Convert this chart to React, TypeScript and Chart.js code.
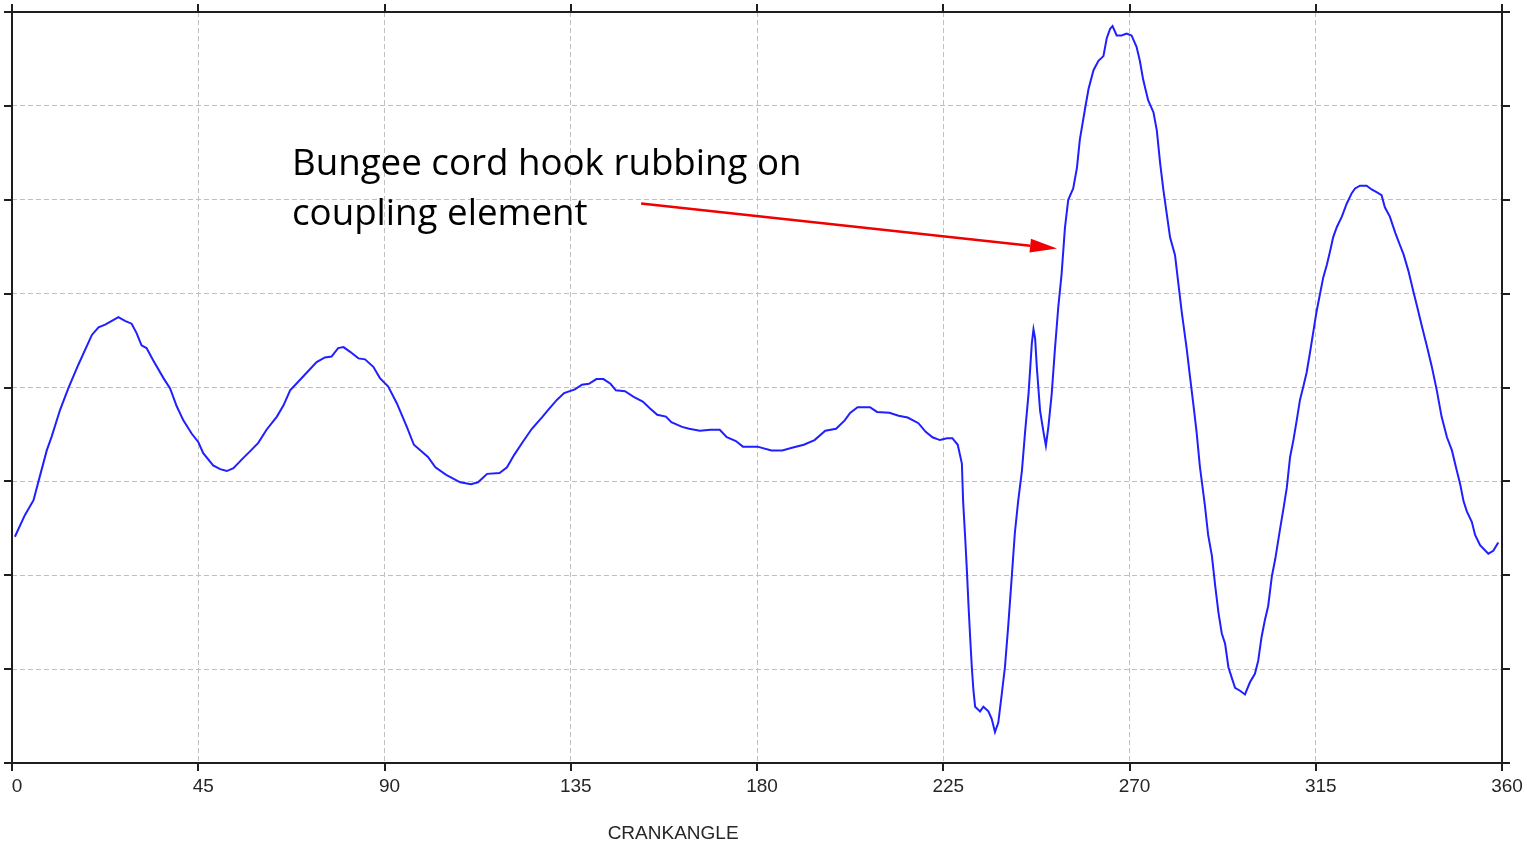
import React, { useEffect, useRef } from "react";
import { Chart, registerables } from "chart.js";

Chart.register(...registerables);

// Crank angle (degrees) and the matching vibration amplitude trace
const crankAngle = [
  0.7, 3.1, 5.2, 6.4, 8.4, 9.6, 11.6, 13.6, 16.0, 19.3, 20.9, 22.5, 23.7, 25.7, 27.3, 28.9,
  30.1, 31.3, 32.5, 34.1, 36.6, 38.2, 39.8, 41.4, 43.4, 45.0, 46.2, 48.6, 50.3, 51.9, 53.5,
  55.9, 57.5, 59.5, 61.5, 64.0, 65.6, 67.2, 70.4, 73.6, 75.6, 77.2, 78.8, 80.1, 81.7, 83.7,
  85.3, 87.3, 88.9, 90.9, 93.0, 95.4, 97.1, 100.5, 102.3, 104.9, 108.3, 110.9, 112.6, 114.8,
  117.8, 119.6, 121.3, 123.4, 125.6, 128.2, 129.5, 131.7, 133.4, 136.0, 137.7, 139.4, 141.2,
  142.9, 144.6, 145.9, 148.1, 150.2, 152.4, 154.1, 155.9, 158.0, 159.3, 161.9, 163.6, 166.2,
  168.8, 171.0, 172.7, 174.9, 176.6, 180.1, 183.5, 186.1, 188.7, 191.3, 193.9, 196.5, 199.1,
  201.2, 202.5, 204.3, 207.3, 209.0, 212.0, 214.2, 216.4, 219.0, 220.7, 222.4, 224.2, 225.9,
  227.2, 228.5, 229.5, 229.8, 230.3, 230.7, 231.1, 231.5, 231.9, 232.3, 232.7, 233.9, 234.7,
  235.9, 236.7, 237.5, 238.3, 239.1, 239.9, 240.7, 241.5, 242.3, 243.1, 244.0, 244.8, 245.6,
  246.4, 246.8, 247.2, 247.6, 248.4, 249.2, 249.8, 250.4, 251.2, 252.0, 252.8, 253.6, 254.4,
  255.2, 256.4, 257.3, 258.0, 259.3, 260.1, 261.3, 262.5, 263.7, 264.5, 265.3, 265.9, 266.9,
  268.1, 269.3, 270.5, 271.7, 272.5, 273.3, 274.5, 275.8, 276.6, 277.4, 278.2, 279.0, 279.8,
  281.0, 281.8, 282.6, 283.8, 284.6, 285.4, 286.2, 287.0, 288.2, 289.0, 289.9, 290.7, 291.5,
  292.3, 293.1, 293.9, 294.7, 295.5, 296.7, 297.9, 299.1, 300.3, 301.1, 301.9, 302.7, 303.5,
  304.4, 305.2, 306.4, 307.2, 308.0, 308.8, 309.6, 310.4, 311.2, 312.0, 312.8, 313.6, 314.4,
  315.2, 316.0, 316.8, 317.7, 318.5, 319.2, 320.1, 321.3, 322.5, 323.7, 324.5, 325.7, 327.3,
  328.5, 329.7, 330.9, 331.7, 332.9, 334.2, 335.4, 336.2, 337.4, 338.6, 339.4, 340.6, 341.8,
  343.0, 344.2, 345.4, 346.7, 347.9, 349.1, 349.9, 350.7, 351.5, 352.7, 353.5, 354.7, 356.7,
  357.9, 359.1,
];

const amplitude = [
  2.41, 2.64, 2.80, 3.00, 3.33, 3.48, 3.76, 3.99, 4.24, 4.56, 4.64, 4.67, 4.70, 4.75, 4.71, 4.68,
  4.58, 4.45, 4.42, 4.29, 4.10, 3.99, 3.80, 3.65, 3.51, 3.42, 3.30, 3.17, 3.13, 3.11, 3.14,
  3.25, 3.32, 3.41, 3.55, 3.69, 3.81, 3.97, 4.12, 4.27, 4.32, 4.33, 4.42, 4.43, 4.38, 4.31,
  4.30, 4.22, 4.10, 4.01, 3.83, 3.58, 3.39, 3.26, 3.15, 3.07, 2.99, 2.97, 2.99, 3.08,
  3.09, 3.15, 3.28, 3.42, 3.56, 3.69, 3.76, 3.87, 3.94, 3.98, 4.03, 4.04, 4.09,
  4.09, 4.04, 3.97, 3.96, 3.90, 3.85, 3.78, 3.71, 3.69, 3.63, 3.58, 3.56, 3.54,
  3.55, 3.55, 3.47, 3.43, 3.37, 3.37, 3.33, 3.33, 3.36, 3.39, 3.44, 3.54, 3.56,
  3.65, 3.73, 3.79, 3.79, 3.74, 3.73, 3.70, 3.68, 3.62, 3.53, 3.47, 3.44, 3.46,
  3.46, 3.39, 3.19, 2.79, 2.40, 2.06, 1.68, 1.34, 1.02, 0.77, 0.60, 0.55, 0.60,
  0.55, 0.47, 0.33, 0.43, 0.72, 1.02, 1.46, 1.95, 2.45, 2.79, 3.11, 3.54, 3.93,
  4.47, 4.62, 4.52, 4.22, 3.75, 3.53, 3.38, 3.58, 3.93, 4.42, 4.86, 5.21, 5.70,
  6.00, 6.12, 6.34, 6.64, 6.98, 7.18, 7.38, 7.48, 7.53, 7.72, 7.82, 7.85, 7.75,
  7.75, 7.77, 7.75, 7.63, 7.48, 7.28, 7.06, 6.93, 6.74, 6.39, 6.10, 5.85, 5.60,
  5.41, 5.11, 4.81, 4.42, 4.12, 3.83, 3.53, 3.16, 2.75, 2.43, 2.21, 1.89, 1.60,
  1.38, 1.27, 1.02, 0.91, 0.80, 0.77, 0.73, 0.86, 0.95, 1.09, 1.34, 1.52, 1.67,
  1.99, 2.17, 2.50, 2.71, 2.93, 3.26, 3.44, 3.65, 3.87, 4.01, 4.16, 4.37, 4.59,
  4.81, 4.99, 5.17, 5.31, 5.46, 5.60, 5.71, 5.82, 5.96, 6.07, 6.12, 6.15, 6.15,
  6.11, 6.08, 6.05, 5.92, 5.82, 5.65, 5.51, 5.42, 5.24, 5.02, 4.88, 4.66, 4.45,
  4.23, 3.98, 3.69, 3.47, 3.33, 3.11, 2.97, 2.79, 2.68, 2.57, 2.43, 2.32, 2.23,
  2.26, 2.35,
];

const angleTicks = [0, 45, 90, 135, 180, 225, 270, 315, 360];
const levelTicks = [0, 1, 2, 3, 4, 5, 6, 7, 8];
const axisTitle = "CRANKANGLE";
const noteLines = ["Bungee cord hook rubbing on", "coupling element"];

// Note anchor and arrow end points, in (crank angle, amplitude) units
const noteAnchor = { x: 67.65, y: 6.264 };
const arrowTail = { x: 152.0, y: 5.96 };
const arrowHead = { x: 252.5, y: 5.48 };

const TICK_LEN = 8;

const framePlugin = {
  id: "frameAndNotes",
  afterDraw(chart: any) {
    const { ctx, chartArea: a, scales } = chart;
    const xs = scales.x;
    const ys = scales.y;
    ctx.save();

    // Plot frame with outward tick marks on all four sides
    ctx.strokeStyle = "#1e1e1e";
    ctx.lineWidth = 2;
    ctx.strokeRect(a.left, a.top, a.right - a.left, a.bottom - a.top);
    ctx.beginPath();
    angleTicks.forEach((t) => {
      const px = Math.round(xs.getPixelForValue(t));
      ctx.moveTo(px, a.top - TICK_LEN);
      ctx.lineTo(px, a.top);
      ctx.moveTo(px, a.bottom);
      ctx.lineTo(px, a.bottom + TICK_LEN);
    });
    levelTicks.forEach((v) => {
      const py = Math.round(ys.getPixelForValue(v));
      ctx.moveTo(a.left - TICK_LEN, py);
      ctx.lineTo(a.left, py);
      ctx.moveTo(a.right, py);
      ctx.lineTo(a.right + TICK_LEN, py);
    });
    ctx.stroke();

    // Angle labels
    ctx.fillStyle = "#262626";
    ctx.font = '19px "Liberation Sans", Arial, sans-serif';
    ctx.textAlign = "center";
    ctx.textBaseline = "alphabetic";
    angleTicks.forEach((t) => {
      const px = xs.getPixelForValue(t);
      ctx.fillText(String(t), px + 5, a.bottom + 29);
    });

    // Axis title
    ctx.fillText(axisTitle, a.left + (a.right - a.left) * 0.4437, a.bottom + 76);

    // Annotation text
    ctx.fillStyle = "#000000";
    ctx.font = '36.7px "Open Sans", "Noto Sans", sans-serif';
    ctx.textAlign = "left";
    const nx = xs.getPixelForValue(noteAnchor.x);
    const ny = ys.getPixelForValue(noteAnchor.y);
    noteLines.forEach((line, i) => ctx.fillText(line, nx, ny + i * 50));

    // Arrow pointing at the rising flank
    const x0 = xs.getPixelForValue(arrowTail.x);
    const y0 = ys.getPixelForValue(arrowTail.y);
    const x1 = xs.getPixelForValue(arrowHead.x);
    const y1 = ys.getPixelForValue(arrowHead.y);
    const ang = Math.atan2(y1 - y0, x1 - x0);
    const headLen = 27;
    const headHalf = 7;
    const bx = x1 - headLen * Math.cos(ang);
    const by = y1 - headLen * Math.sin(ang);
    ctx.strokeStyle = "#f00000";
    ctx.fillStyle = "#f00000";
    ctx.lineWidth = 2.5;
    ctx.beginPath();
    ctx.moveTo(x0, y0);
    ctx.lineTo(bx, by);
    ctx.stroke();
    ctx.beginPath();
    ctx.moveTo(x1, y1);
    ctx.lineTo(bx + headHalf * Math.sin(ang), by - headHalf * Math.cos(ang));
    ctx.lineTo(bx - headHalf * Math.sin(ang), by + headHalf * Math.cos(ang));
    ctx.closePath();
    ctx.fill();

    ctx.restore();
  },
};

export default function App() {
  const canvasRef = useRef<HTMLCanvasElement | null>(null);

  useEffect(() => {
    const canvas = canvasRef.current;
    if (!canvas) return;
    const points = crankAngle.map((x, i) => ({ x, y: amplitude[i] }));
    const chart = new Chart(canvas, {
      type: "line",
      data: {
        datasets: [
          {
            data: points,
            borderColor: "#1f1fff",
            borderWidth: 2,
            pointRadius: 0,
            tension: 0,
            fill: false,
          },
        ],
      },
      options: {
        responsive: false,
        animation: false,
        events: [],
        layout: { padding: { left: 12, top: 12, right: 25, bottom: 80 } },
        plugins: {
          legend: { display: false },
          tooltip: { enabled: false },
          title: { display: false },
        },
        scales: {
          x: {
            type: "linear",
            min: 0,
            max: 360,
            afterBuildTicks: (scale: any) => {
              scale.ticks = angleTicks.map((v) => ({ value: v }));
            },
            ticks: { display: false },
            grid: { color: "#c0c0c0", lineWidth: 1, drawTicks: false, tickLength: 0 },
            border: { display: false, dash: [5, 3] },
          },
          y: {
            type: "linear",
            min: 0,
            max: 8,
            afterBuildTicks: (scale: any) => {
              scale.ticks = levelTicks.map((v) => ({ value: v }));
            },
            ticks: { display: false },
            grid: { color: "#c0c0c0", lineWidth: 1, drawTicks: false, tickLength: 0 },
            border: { display: false, dash: [5, 3] },
          },
        },
      },
      plugins: [framePlugin],
    });
    return () => chart.destroy();
  }, []);

  return (
    <div style={{ position: "fixed", left: 0, top: 0, width: 1527, height: 843, background: "#ffffff" }}>
      <canvas ref={canvasRef} width={1527} height={843} style={{ display: "block" }} />
    </div>
  );
}
